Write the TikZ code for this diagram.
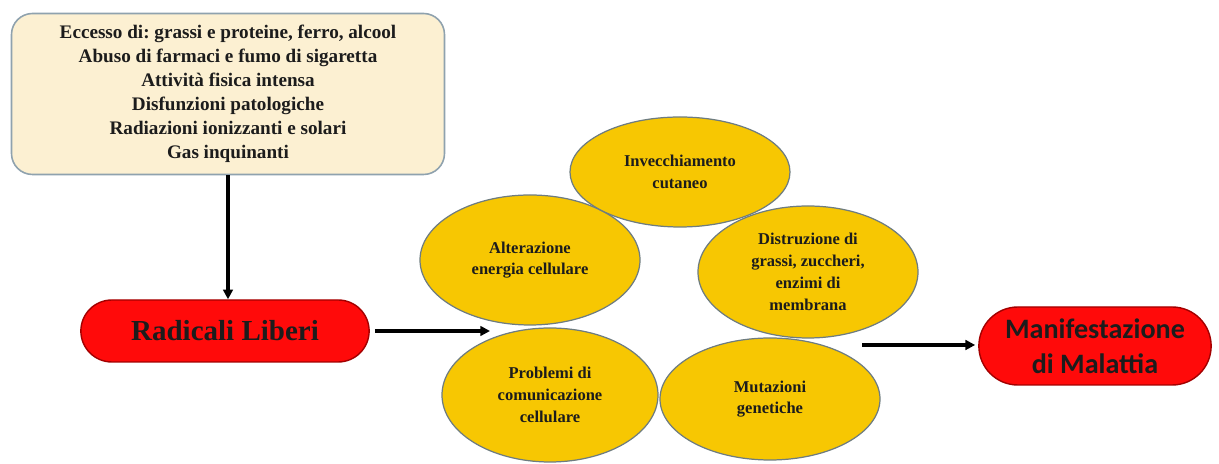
\documentclass[tikz,border=0pt]{standalone}
\usepackage{fontspec}
\setmainfont{Liberation Serif}
\newfontfamily\calibrifont{Carlito}
\usepackage{xcolor}
\usetikzlibrary{arrows.meta,positioning,shapes.geometric,shapes.misc}
\definecolor{causefill}{HTML}{FCF0D2}
\definecolor{causeline}{HTML}{8FA2AE}
\definecolor{goldfill}{HTML}{F7C702}
\definecolor{goldline}{HTML}{6E7C80}
\definecolor{pillred}{HTML}{FF0A0A}
\definecolor{pillline}{HTML}{A30000}
\definecolor{inkdark}{HTML}{1C1C1C}
\frenchspacing

\begin{document}
\begin{tikzpicture}[
        causebox/.style={
            draw=causeline,
            line width=0.9pt,
            rounded corners=0.42cm,
            minimum width=8.66cm,
            minimum height=3.22cm,
            align=center,
            fill=causefill,
            text=inkdark,
            font=\bfseries\fontsize{10.9}{13.6}\selectfont
        },
        pill/.style={
            rounded rectangle,
            draw=pillline,
            line width=0.8pt,
            fill=pillred,
            align=center,
            text=inkdark
        },
        effect/.style={
            ellipse,
            draw=goldline,
            line width=0.7pt,
            fill=goldfill,
            inner sep=0pt,
            align=center,
            text=inkdark,
            font=\bfseries\fontsize{9.4}{12.4}\selectfont
        },
        msg/.style={-{Triangle[length=5.5pt,width=5.5pt]},line width=2.1pt,black}
    ]
        \useasboundingbox (0,0) rectangle (24.38,-9.28);

        \node[causebox] (cause) at (4.56,-1.88) {Eccesso di: grassi e proteine, ferro, alcool\\Abuso di farmaci e fumo di sigaretta\\Attività fisica intensa\\Disfunzioni patologiche\\Radiazioni ionizzanti e solari\\Gas inquinanti};
        \node[pill,minimum width=6.0cm,minimum height=1.24cm,
            font=\bfseries\fontsize{16.5}{19}\selectfont] (radicali) at (4.5,-6.62) {Radicali Liberi};

        % effects
        \node[effect,minimum width=4.4cm,minimum height=2.6cm] (alterazione) at (10.6,-5.2) {Alterazione\\energia cellulare};
        \node[effect,minimum width=4.4cm,minimum height=2.2cm] (invecchiamento) at (13.6,-3.44) {Invecchiamento\\cutaneo};
        \node[effect,minimum width=4.4cm,minimum height=2.64cm] (distruzione) at (16.16,-5.44) {Distruzione di\\grassi, zuccheri,\\enzimi di\\membrana};
        \node[effect,minimum width=4.32cm,minimum height=2.68cm] (problemi) at (11.0,-7.9) {Problemi di\\comunicazione\\cellulare};
        \node[effect,minimum width=4.4cm,minimum height=2.44cm] (mutazioni) at (15.4,-7.98) {Mutazioni\\genetiche};

        \node[pill,minimum width=4.88cm,minimum height=1.56cm,
            font=\calibrifont\bfseries\fontsize{16}{20}\selectfont] (manifestazione) at (21.9,-6.92) {Manifestazione\\di Malattia};

        \coordinate (effectsin) at (9.8,-6.6);
        \coordinate (effectsout) at (17.24,-6.9);

        \draw[msg] (cause.south) -- (cause.south |- radicali.north);
        \draw[msg,shorten <=0.1cm] (radicali.east) -- (radicali.east -| effectsin);
        \draw[msg,shorten >=0.06cm] (effectsout) -- (effectsout -| manifestazione.west);
    \end{tikzpicture}
\end{document}
